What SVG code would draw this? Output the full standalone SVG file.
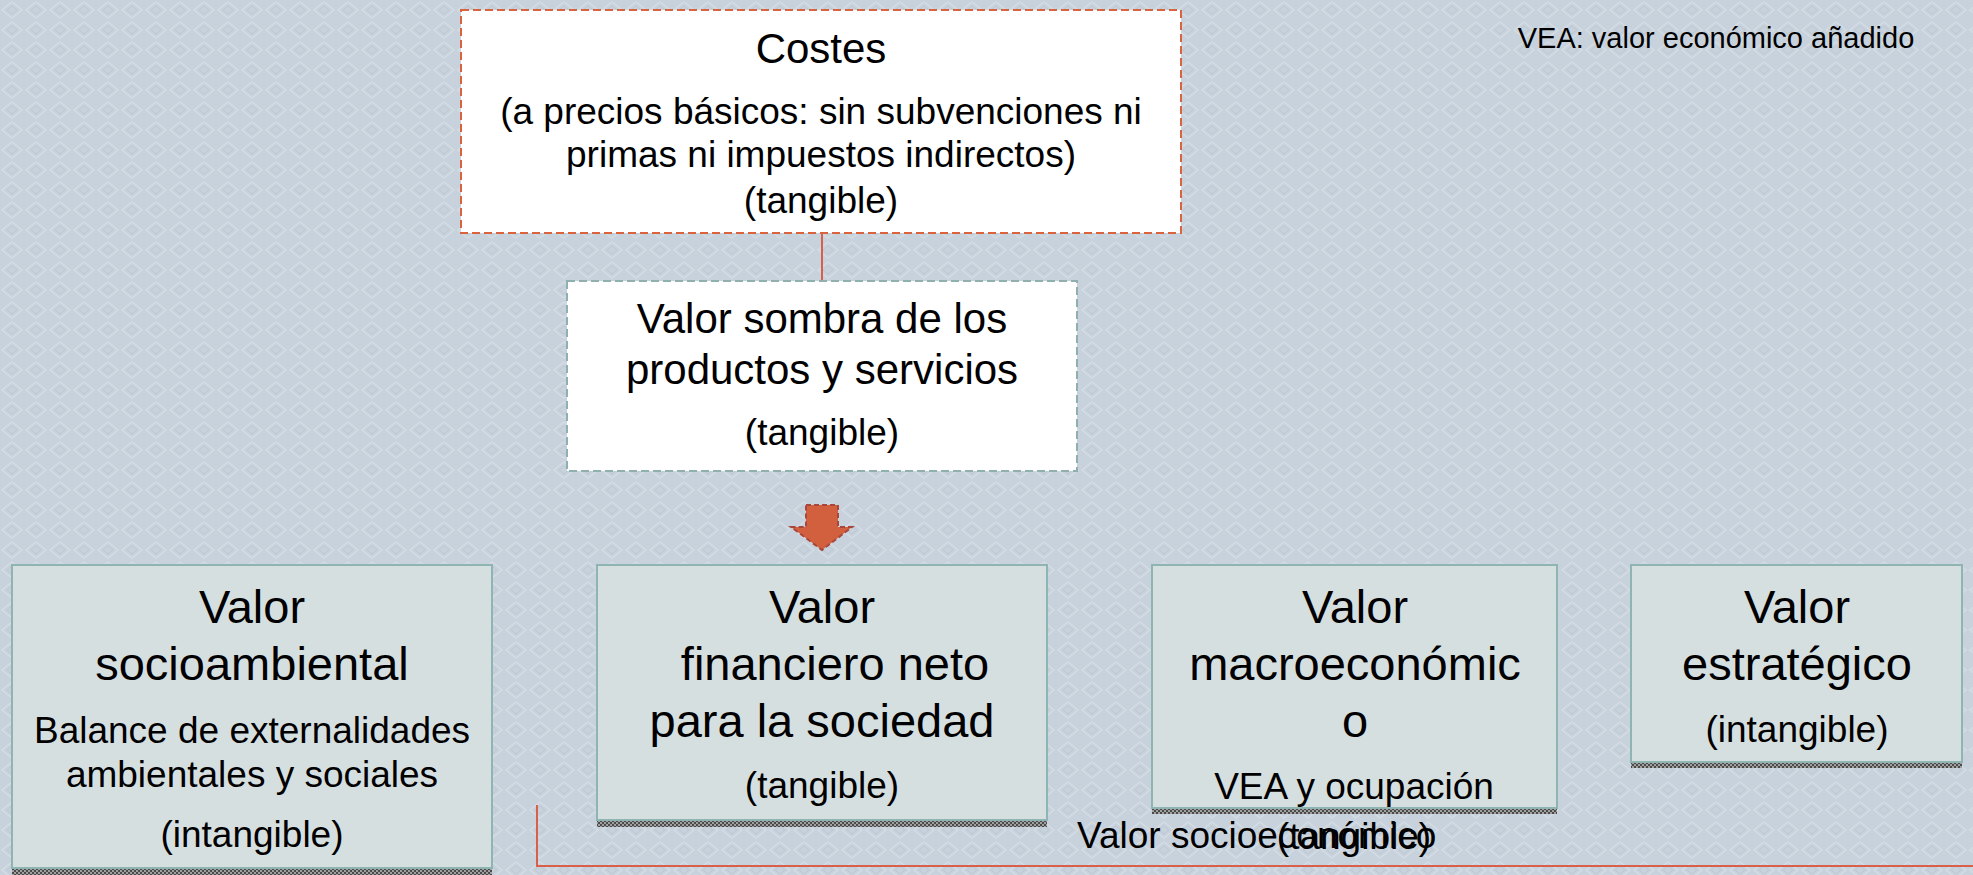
<svg xmlns="http://www.w3.org/2000/svg" width="1973" height="875" viewBox="0 0 1973 875">
<defs>
<pattern id="bg" width="24" height="20" patternUnits="userSpaceOnUse">
<rect width="24" height="20" fill="#c8d2dc"/>
<path d="M12 2 L22 10 L12 18 L2 10 Z" fill="none" stroke="#d4dce4" stroke-width="1.5"/>
<path d="M12 6 L17 10 L12 14 L7 10 Z" fill="none" stroke="#bcc7d1" stroke-width="1"/>
</pattern>
<pattern id="sh" width="4" height="4" patternUnits="userSpaceOnUse">
<rect width="4" height="4" fill="#a0a0a0"/>
<rect width="2" height="2" fill="#4a4a4a"/>
<rect x="2" y="2" width="2" height="2" fill="#4a4a4a"/>
</pattern>
<style>
text{font-family:"Liberation Sans",Arial,sans-serif;fill:#000;text-anchor:middle}
.t42{font-size:42px}
.t47{font-size:47px}
.t37{font-size:37px}
.box{fill:#d6dfe0;stroke:#8fb5b2;stroke-width:2}
.shadow{fill:url(#sh)}
.conn{stroke:#d8604a;stroke-width:2;fill:none}
</style>
</defs>
<rect width="1973" height="875" fill="url(#bg)"/>

<text x="1716" y="48" style="font-size:29px">VEA: valor económico añadido</text>

<g id="connectors">
<line class="conn" x1="822" y1="233" x2="822" y2="281"/>
<polyline class="conn" points="537,805 537,866 1973,866"/>
<path d="M806 505 L838 505 L838 527 L852 527 L822 550 L791 527 L806 527 Z" fill="#d2603f" stroke="#a8473a" stroke-width="2" stroke-dasharray="5,3"/>
</g>

<g id="costes">
<rect x="461" y="10" width="720" height="223" fill="#fff" stroke="#d9623f" stroke-width="2" stroke-dasharray="8,4"/>
<text x="821" y="63" class="t42">Costes</text>
<text x="821" y="124" class="t37">(a precios básicos: sin subvenciones ni</text>
<text x="821" y="167" class="t37">primas ni impuestos indirectos)</text>
<text x="821" y="213" class="t37">(tangible)</text>
</g>

<g id="valor-sombra">
<rect x="567" y="281" width="510" height="190" fill="#fff" stroke="#8fb0ae" stroke-width="2" stroke-dasharray="8,4"/>
<text x="822" y="333" class="t42">Valor sombra de los</text>
<text x="822" y="384" class="t42">productos y servicios</text>
<text x="822" y="445" class="t37">(tangible)</text>
</g>

<g id="valor-socioambiental">
<rect class="shadow" x="12" y="868" width="480" height="7"/>
<rect class="box" x="12" y="565" width="480" height="303"/>
<text x="252" y="623" class="t47">Valor</text>
<text x="252" y="680" class="t47">socioambiental</text>
<text x="252" y="743" class="t37">Balance de externalidades</text>
<text x="252" y="787" class="t37">ambientales y sociales</text>
<text x="252" y="847" class="t37">(intangible)</text>
</g>

<g id="valor-financiero">
<rect class="shadow" x="597" y="820" width="450" height="7"/>
<rect class="box" x="597" y="565" width="450" height="255"/>
<text x="822" y="623" class="t47">Valor</text>
<text x="835" y="680" class="t47">financiero neto</text>
<text x="822" y="737" class="t47">para la sociedad</text>
<text x="822" y="798" class="t37">(tangible)</text>
</g>

<g id="valor-macroeconomico">
<rect class="shadow" x="1152" y="808" width="405" height="6"/>
<rect class="box" x="1152" y="565" width="405" height="243"/>
<text x="1355" y="623" class="t47">Valor</text>
<text x="1355" y="680" class="t47">macroeconómic</text>
<text x="1355" y="737" class="t47">o</text>
<text x="1354" y="799" class="t37">VEA y ocupación</text>
<text x="1354" y="849" class="t37">(tangible)</text>
</g>

<g id="valor-estrategico">
<rect class="shadow" x="1631" y="762" width="331" height="6"/>
<rect class="box" x="1631" y="565" width="331" height="197"/>
<text x="1797" y="623" class="t47">Valor</text>
<text x="1797" y="680" class="t47">estratégico</text>
<text x="1797" y="742" class="t37">(intangible)</text>
</g>

<g id="valor-socioeconomico">
<text x="1077" y="848" class="t37" style="text-anchor:start">Valor socioeconómico</text>
</g>
</svg>
